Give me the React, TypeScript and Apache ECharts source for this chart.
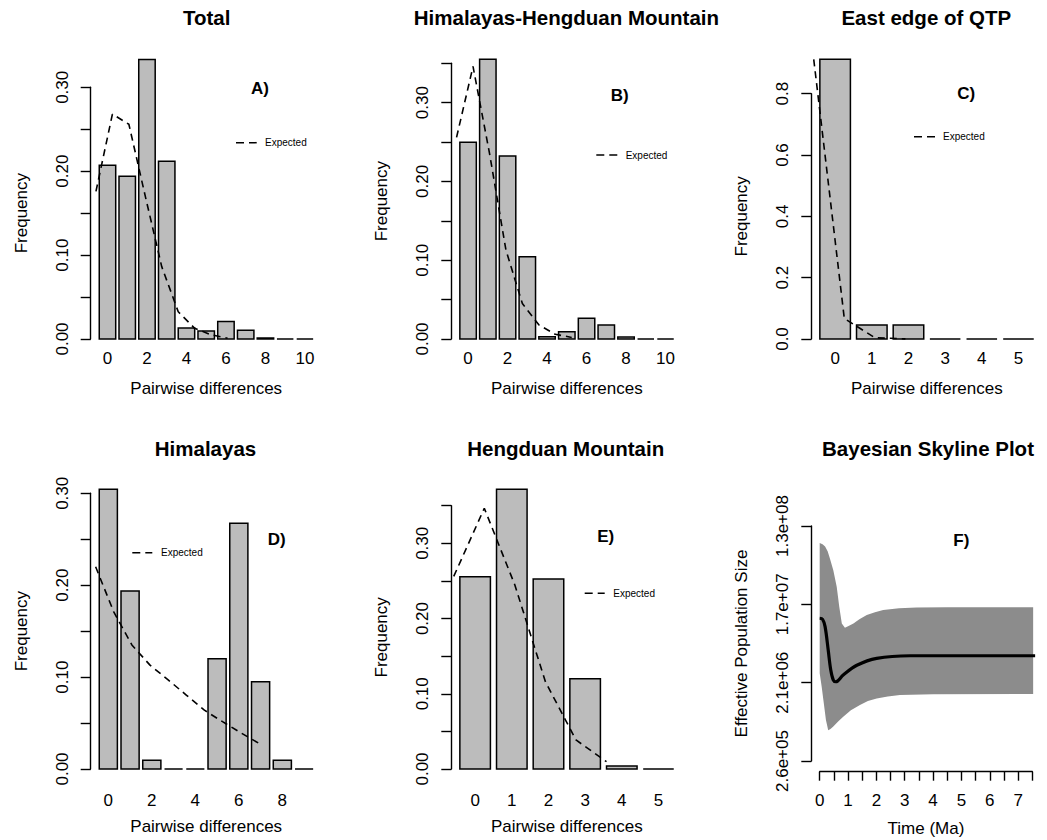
import React, { useEffect, useRef } from 'react';
import * as echarts from 'echarts';

const FONT = "'Liberation Sans', Arial, Helvetica, sans-serif";

// ---- Panel A: Total ----
const totalObs = [0.207, 0.194, 0.333, 0.212, 0.013, 0.0095, 0.021, 0.0103, 0.0012, 0, 0];
const totalExp = [0.176, 0.268, 0.256, 0.170, 0.086, 0.0325, 0.0127, 0.005, 0.001];
// ---- Panel B: Himalayas-Hengduan Mountain ----
const hhObs = [0.2497, 0.355, 0.2323, 0.1045, 0.003, 0.0093, 0.0263, 0.0178, 0.0025, 0, 0];
const hhExp = [0.256, 0.346, 0.236, 0.113, 0.045, 0.018, 0.006, 0.002];
// ---- Panel C: East edge of QTP ----
const eastObs = [0.912, 0.0457, 0.0457, 0, 0, 0];
const eastExp = [0.912, 0.067, 0.004, 0.0005];
// ---- Panel D: Himalayas ----
const himObs = [0.3044, 0.1937, 0.0094, 0, 0, 0.12, 0.2673, 0.095, 0.0094, 0];
const himExp = [0.220, 0.171, 0.135, 0.113, 0.097, 0.0805, 0.064, 0.0515, 0.0395, 0.028];
// ---- Panel E: Hengduan Mountain ----
const hdObs = [0.2557, 0.3719, 0.2526, 0.120, 0.004, 0];
const hdExp = [0.256, 0.3466, 0.2446, 0.116, 0.0386, 0.0097];

// ---- Panel F: Bayesian Skyline Plot ----
const skyUpperT = [0, 0.1, 0.19, 0.28, 0.36, 0.48, 0.6, 0.69, 0.78, 0.89, 1.0, 1.19, 1.4, 1.66, 1.95, 2.24, 2.8, 3.42, 4.5, 7.53];
const skyUpperN = [8.5e7, 8.2e7, 7.7e7, 6.8e7, 5.6e7, 4.1e7, 2.65e7, 1.56e7, 1.0e7, 8.95e6, 9.3e6, 1.0e7, 1.12e7, 1.25e7, 1.35e7, 1.43e7, 1.5e7, 1.53e7, 1.54e7, 1.54e7];
const skyLowerT = [0, 0.07, 0.13, 0.22, 0.3, 0.38, 0.48, 0.65, 0.83, 1.1, 1.42, 1.7, 2.01, 2.4, 2.83, 4.0, 7.53];
const skyLowerN = [2.67e6, 1.87e6, 1.31e6, 7.7e5, 5.9e5, 6.1e5, 6.5e5, 7.4e5, 8.4e5, 1.0e6, 1.15e6, 1.28e6, 1.37e6, 1.44e6, 1.5e6, 1.53e6, 1.54e6];
const skyMedT = [0, 0.1, 0.19, 0.3, 0.39, 0.48, 0.57, 0.83, 1.31, 2.01, 3.19, 7.6];
const skyMedN = [1.15e7, 1.12e7, 9.2e6, 4.95e6, 2.91e6, 2.23e6, 2.13e6, 2.55e6, 3.3e6, 3.97e6, 4.25e6, 4.25e6];

// ---- ticks & labels ----
const freqTicks035 = [0, 0.05, 0.1, 0.15, 0.2, 0.25, 0.3, 0.35];
const freqTicks030 = [0, 0.05, 0.1, 0.15, 0.2, 0.25, 0.3];
const freqLabels = [0, 0.1, 0.2, 0.3];
const eastTicks = [0, 0.2, 0.4, 0.6, 0.8];
const evenLabels10 = [0, 2, 4, 6, 8, 10];
const evenLabels8 = [0, 2, 4, 6, 8];
const allLabels5 = [0, 1, 2, 3, 4, 5];
const skyTickN = [2.6e5, 2.08e6, 1.664e7, 1.3312e8];
const timeTicks = [0, 0.5, 1, 1.5, 2, 2.5, 3, 3.5, 4, 4.5, 5, 5.5, 6, 6.5, 7, 7.5];
const timeLabels = [0, 1, 2, 3, 4, 5, 6, 7];

const titles = ['Total', 'Himalayas-Hengduan Mountain', 'East edge of QTP', 'Himalayas', 'Hengduan Mountain', 'Bayesian Skyline Plot'];
const panelTags = ['A)', 'B)', 'C)', 'D)', 'E)', 'F)'];

// R barplot geometry: bar i centred at user 0.7 + 1.2 i, width 1
const userToIndex = (u: number) => (u - 0.7) / 1.2;
function barXlim(n: number): [number, number] {
  const lo = 0.2, hi = 1.2 * n;
  const pad = 0.04 * (hi - lo);
  return [userToIndex(lo - pad), userToIndex(hi + pad)];
}

const txt = { color: '#000', fontFamily: FONT, fontSize: 17 };
const axisLineStyle = { color: '#000', width: 1.4 };

function expFmt(v: number) {
  const s = Math.pow(10, v).toExponential(1);
  return s.replace(/e([+-])(\d+)$/, (_m: string, sg: string, d: string) => 'e' + sg + (d.length < 2 ? '0' + d : d));
}

interface PanelSpec {
  obs: number[];
  exp: number[];
  yMax: number;
  yTicks: number[];
  yLabels: number[];
  dec: number;
  xLabels: number[];
  labelMargin: number;
  nameGap: number;
}

export default function App() {
  const ref = useRef<HTMLDivElement>(null);
  useEffect(() => {
    if (!ref.current) return;
    const chart = echarts.init(ref.current, undefined, { renderer: 'svg' });

    const grids = [
      { left: 90.7, top: 87.3, width: 231, height: 251.7 },
      { left: 451.3, top: 63.3, width: 231, height: 275.7 },
      { left: 811.3, top: 93.7, width: 231, height: 245.3 },
      { left: 90.7, top: 493.3, width: 231, height: 275.7 },
      { left: 451.3, top: 505.7, width: 231, height: 263.3 },
      { left: 811.3, top: 526, width: 231, height: 235 },
      { left: 819.7, top: 700, width: 212.6, height: 71.7 },
    ];

    const panels: PanelSpec[] = [
      { obs: totalObs, exp: totalExp, yMax: 0.3, yTicks: freqTicks030, yLabels: freqLabels, dec: 2, xLabels: evenLabels10, labelMargin: 11, nameGap: 41 },
      { obs: hhObs, exp: hhExp, yMax: 0.35, yTicks: freqTicks035, yLabels: freqLabels, dec: 2, xLabels: evenLabels10, labelMargin: 11, nameGap: 41 },
      { obs: eastObs, exp: eastExp, yMax: 0.8, yTicks: eastTicks, yLabels: eastTicks, dec: 1, xLabels: allLabels5, labelMargin: 11, nameGap: 41 },
      { obs: himObs, exp: himExp, yMax: 0.3, yTicks: freqTicks030, yLabels: freqLabels, dec: 2, xLabels: evenLabels8, labelMargin: 22.5, nameGap: 49 },
      { obs: hdObs, exp: hdExp, yMax: 0.35, yTicks: freqTicks035, yLabels: freqLabels, dec: 2, xLabels: allLabels5, labelMargin: 22.5, nameGap: 49 },
    ];

    const xAxes: any[] = [];
    const yAxes: any[] = [];
    const series: any[] = [];

    const yName = (name: string) => ({
      name, nameLocation: 'middle', nameGap: 61, nameRotate: 90, nameTextStyle: { ...txt },
    });

    panels.forEach((p, idx) => {
      const [xmin, xmax] = barXlim(p.obs.length);
      xAxes.push({
        gridIndex: idx, type: 'value', min: xmin, max: xmax,
        axisLine: { show: false, onZero: false }, axisTick: { show: false }, splitLine: { show: false },
        axisLabel: { customValues: p.xLabels, margin: p.labelMargin, ...txt, formatter: (v: number) => String(Math.round(v)) },
        name: 'Pairwise differences', nameLocation: 'middle', nameGap: p.nameGap, nameTextStyle: { ...txt },
      });
      yAxes.push({
        gridIndex: idx, type: 'value', min: 0, max: p.yMax,
        axisLine: { show: true, onZero: false, lineStyle: axisLineStyle },
        axisTick: { show: true, length: 10, customValues: p.yTicks, lineStyle: axisLineStyle },
        axisLabel: { customValues: p.yLabels, rotate: 90, margin: 20, ...txt, formatter: (v: number) => v.toFixed(p.dec) },
        splitLine: { show: false },
        ...yName('Frequency'),
      });
      const half = 0.5 / 1.2;
      series.push({
        type: 'custom', xAxisIndex: idx, yAxisIndex: idx, clip: false, silent: true,
        data: p.obs.map((v, i) => [i, v]),
        renderItem: (_params: any, api: any) => {
          const i = api.value(0), v = api.value(1);
          const a = api.coord([i - half, 0]);
          const b = api.coord([i + half, v]);
          if (v === 0) {
            return { type: 'line', shape: { x1: a[0], y1: a[1], x2: b[0], y2: a[1] }, style: { stroke: '#000', lineWidth: 1.5 } };
          }
          return {
            type: 'rect',
            shape: { x: a[0], y: b[1], width: b[0] - a[0], height: a[1] - b[1] },
            style: { fill: '#bcbcbc', stroke: '#000', lineWidth: 1.5 },
          };
        },
      });
      series.push({
        type: 'line', name: 'Expected', xAxisIndex: idx, yAxisIndex: idx, clip: false, silent: true,
        symbol: 'none', z: 5,
        data: p.exp.map((v, j) => [userToIndex(j), v]),
        lineStyle: { color: '#000', width: 1.6, type: [7, 5] },
      });
    });

    // Panel F (skyline) - main grid (y axis) index 5, x-axis grid index 6
    const tScale = 212.6 / 7.5;
    const fxMin = (811.3 - 819.7) / tScale;
    const fxMax = fxMin + 231 / tScale;
    const logTicks = skyTickN.map((n) => Math.log10(n));
    xAxes.push({
      gridIndex: 5, type: 'value', min: fxMin, max: fxMax, show: false,
      axisLine: { onZero: false },
    });
    yAxes.push({
      gridIndex: 5, type: 'value', min: logTicks[0], max: logTicks[logTicks.length - 1],
      axisLine: { show: true, onZero: false, lineStyle: axisLineStyle },
      axisTick: { show: true, length: 10, customValues: logTicks, lineStyle: axisLineStyle },
      axisLabel: { customValues: logTicks, rotate: 90, margin: 20, ...txt, formatter: (v: number) => expFmt(v) },
      splitLine: { show: false },
      ...yName('Effective Population Size'),
    });
    xAxes.push({
      gridIndex: 6, type: 'value', min: 0, max: 7.5,
      axisLine: { show: true, onZero: false, lineStyle: axisLineStyle },
      axisTick: { show: true, length: 9, customValues: timeTicks, lineStyle: axisLineStyle },
      axisLabel: { customValues: timeLabels, margin: 20, ...txt, formatter: (v: number) => String(Math.round(v)) },
      splitLine: { show: false },
      name: 'Time (Ma)', nameLocation: 'middle', nameGap: 48, nameTextStyle: { ...txt },
    });
    yAxes.push({ gridIndex: 6, type: 'value', min: 0, max: 1, show: false, axisLine: { onZero: false } });

    series.push({
      type: 'custom', xAxisIndex: 5, yAxisIndex: 5, clip: false, silent: true, z: 1,
      data: [[0, 6]],
      renderItem: (_params: any, api: any) => {
        const pts: number[][] = [];
        skyUpperT.forEach((t, i) => pts.push(api.coord([t, Math.log10(skyUpperN[i])])));
        for (let i = skyLowerT.length - 1; i >= 0; i--) pts.push(api.coord([skyLowerT[i], Math.log10(skyLowerN[i])]));
        return { type: 'polygon', shape: { points: pts }, style: { fill: '#8c8c8c', stroke: 'none' } };
      },
    });
    series.push({
      type: 'line', xAxisIndex: 5, yAxisIndex: 5, clip: false, silent: true, symbol: 'none', z: 5,
      smooth: 0.35,
      data: skyMedT.map((t, i) => [t, Math.log10(skyMedN[i])]),
      lineStyle: { color: '#000', width: 3.2 },
    });

    const titleCenters = [[206.7, 7], [566.4, 7], [926.3, 7], [205.5, 438], [565.7, 438], [928, 438]];
    const title = titles.map((t, i) => ({
      text: t, left: titleCenters[i][0], top: titleCenters[i][1], textAlign: 'center', padding: 0,
      textStyle: { color: '#000', fontFamily: FONT, fontSize: 20.5, fontWeight: 'bold' },
    }));

    const tagPos = [[260, 88.3], [619.7, 95], [966.3, 93.3], [276.7, 539.3], [605.7, 536], [961.3, 540]];
    const legendPos = [[236, 256.7, 142.7, 265], [596.3, 617.3, 155, 625.7], [914, 935.3, 136.7, 943], [132.3, 152.3, 552.7, 161], [584.7, 604.7, 593.3, 613.3]];
    const graphic: any[] = [];
    panelTags.forEach((t, i) => {
      graphic.push({
        type: 'text', x: tagPos[i][0], y: tagPos[i][1], silent: true,
        style: { text: t, align: 'center', verticalAlign: 'middle', fill: '#000', font: `bold 17px ${FONT}` },
      });
    });
    legendPos.forEach((l) => {
      graphic.push({
        type: 'line', silent: true, shape: { x1: l[0], y1: l[2], x2: l[1], y2: l[2] },
        style: { stroke: '#000', lineWidth: 1.5, lineDash: [8, 5] },
      });
      graphic.push({
        type: 'text', x: l[3], y: l[2], silent: true,
        style: { text: 'Expected', align: 'left', verticalAlign: 'middle', fill: '#000', font: `10px ${FONT}` },
      });
    });

    chart.setOption({
      animation: false,
      backgroundColor: '#fff',
      title,
      grid: grids.map((g) => ({ ...g, containLabel: false })),
      xAxis: xAxes,
      yAxis: yAxes,
      series,
      graphic,
    });
    return () => chart.dispose();
  }, []);
  return <div ref={ref} style={{ position: 'absolute', left: 0, top: 0, width: 1047, height: 840 }} />;
}
